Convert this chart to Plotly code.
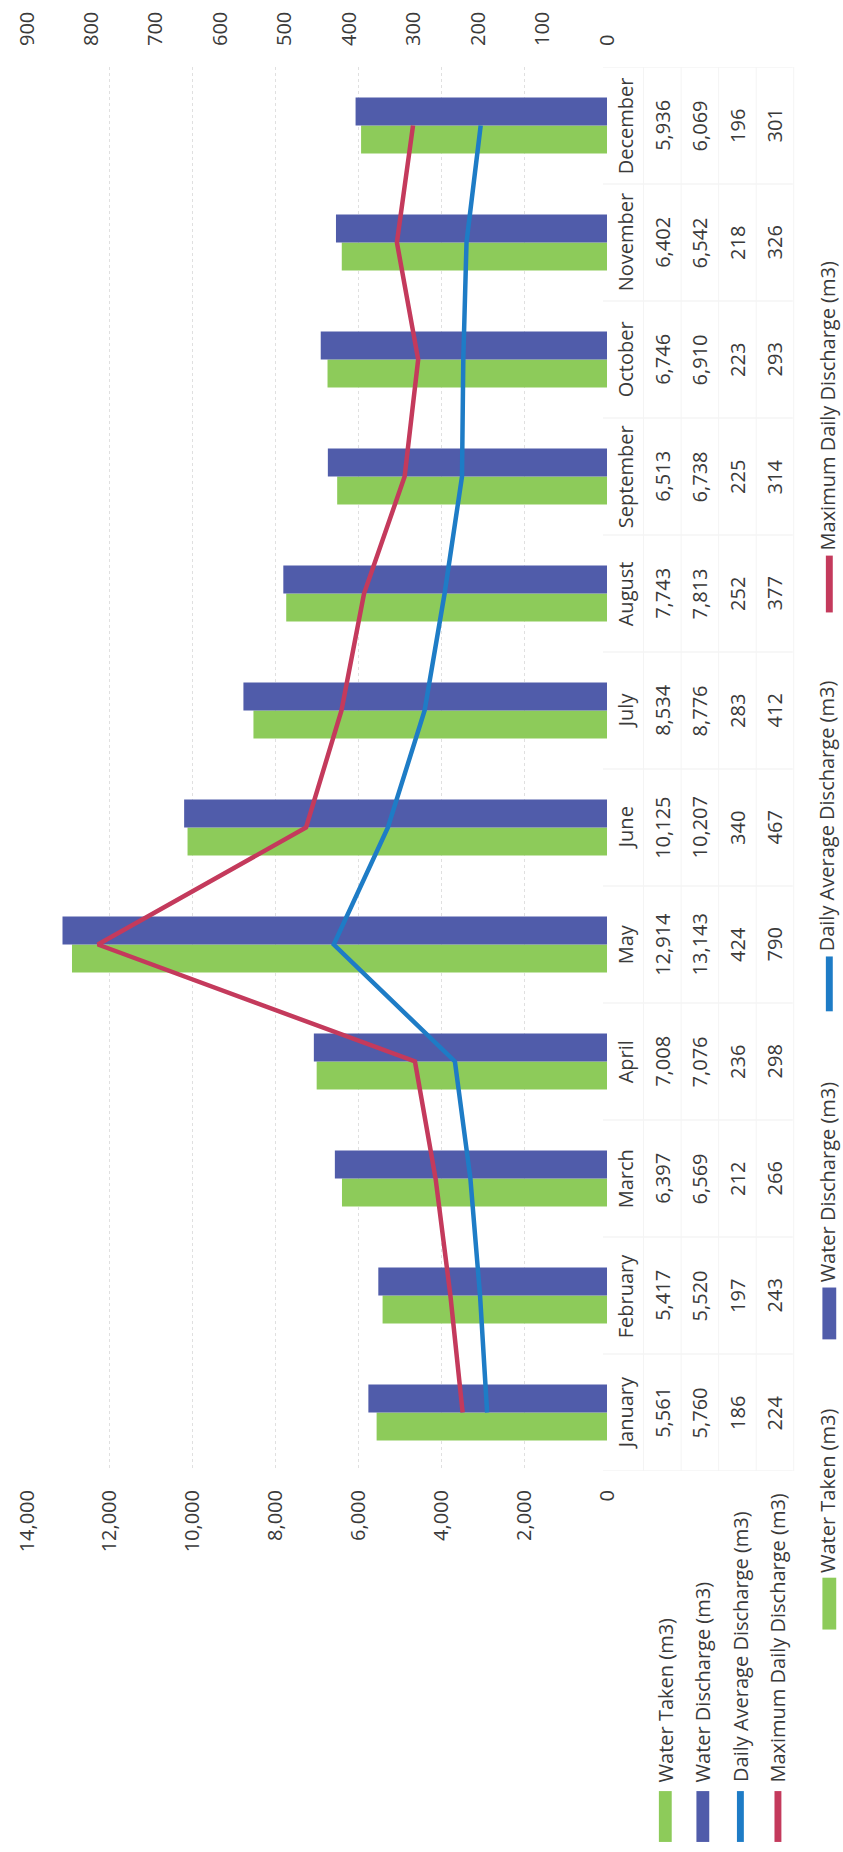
import plotly.graph_objects as go

# ---------------- data ----------------
months = ["January", "February", "March", "April", "May", "June", "July",
          "August", "September", "October", "November", "December"]
water_taken = [5561, 5417, 6397, 7008, 12914, 10125, 8534, 7743, 6513, 6746, 6402, 5936]
water_discharge = [5760, 5520, 6569, 7076, 13143, 10207, 8776, 7813, 6738, 6910, 6542, 6069]
daily_avg = [186, 197, 212, 236, 424, 340, 283, 252, 225, 223, 218, 196]
max_daily = [224, 243, 266, 298, 790, 467, 412, 377, 314, 293, 326, 301]

series_names = ["Water Taken (m3)", "Water Discharge (m3)",
                "Daily Average Discharge (m3)", "Maximum Daily Discharge (m3)"]
primary_ticks = [0, 2000, 4000, 6000, 8000, 10000, 12000, 14000]
secondary_ticks = [0, 100, 200, 300, 400, 500, 600, 700, 800, 900]

# ---------------- style ----------------
GREEN = "rgb(141,203,90)"
BLUE_BAR = "rgb(80,92,170)"
BLUE_LINE = "rgb(30,124,198)"
RED_LINE = "rgb(196,58,92)"
TEXT = "#3a3a3a"
FONT = "Open Sans"
FS = 20

W, H = 843, 1852
X0, X1 = 20, 607      # plot area left/right in px
Y0, Y1 = 63, 1471     # plot area top/bottom in px


def px(x):
    return (x - X0) / (X1 - X0)


def py(y):
    return (Y1 - y) / (Y1 - Y0)


fig = go.Figure()
fig.add_trace(go.Bar(orientation="h", y=months, x=water_taken, name=series_names[0],
                     marker=dict(color=GREEN, line=dict(width=0)), xaxis="x", yaxis="y"))
fig.add_trace(go.Bar(orientation="h", y=months, x=water_discharge, name=series_names[1],
                     marker=dict(color=BLUE_BAR, line=dict(width=0)), xaxis="x", yaxis="y"))
fig.add_trace(go.Scatter(y=months, x=daily_avg, name=series_names[2], mode="lines",
                         line=dict(color=BLUE_LINE, width=4.5), xaxis="x2", yaxis="y"))
fig.add_trace(go.Scatter(y=months, x=max_daily, name=series_names[3], mode="lines",
                         line=dict(color=RED_LINE, width=4.5), xaxis="x2", yaxis="y"))

annotations = []
shapes = []

# data table: month names and values
row_x = [663, 701, 739, 777]
row_vals = [water_taken, water_discharge, daily_avg, max_daily]
for i, m in enumerate(months):
    annotations.append(dict(x=px(626), y=m, xref="paper", yref="y", text=m,
                            textangle=-90, showarrow=False, xanchor="center",
                            yanchor="middle", font=dict(size=FS, color=TEXT, family=FONT)))
    for rx, vals in zip(row_x, row_vals):
        annotations.append(dict(x=px(rx), y=m, xref="paper", yref="y",
                                text=f"{vals[i]:,}", textangle=-90, showarrow=False,
                                xanchor="center", yanchor="middle",
                                font=dict(size=FS, color=TEXT, family=FONT)))

# faint data-table borders at category boundaries
for k in range(len(months) + 1):
    shapes.append(dict(type="line", xref="paper", yref="y", x0=px(603), x1=px(795),
                       y0=k - 0.5, y1=k - 0.5, line=dict(color="#efefef", width=1)))
for bx in [644, 682, 720, 758, 796]:
    shapes.append(dict(type="line", xref="paper", yref="paper", x0=px(bx), x1=px(bx),
                       y0=py(Y1), y1=py(Y0), line=dict(color="#f4f4f4", width=1)))

# row headers with keys
hdr_x = [666, 704, 742, 780]
colors = [GREEN, BLUE_BAR, BLUE_LINE, RED_LINE]
for k, (hx, name, col) in enumerate(zip(hdr_x, series_names, colors)):
    annotations.append(dict(x=px(hx), y=py(1785), xref="paper", yref="paper", text=name,
                            textangle=-90, showarrow=False, xanchor="center",
                            yanchor="bottom", font=dict(size=FS, color=TEXT, family=FONT)))
    half = 6.5 if k < 2 else 3.5
    shapes.append(dict(type="rect", xref="paper", yref="paper",
                       x0=px(hx - half), x1=px(hx + half), y0=py(1843), y1=py(1792),
                       fillcolor=col, line=dict(width=0)))

# bottom (right-side when rotated) legend
leg_x = 830
leg_text_bottom = [1574, 1283, 951, 549]
leg_key = [(1578, 1630), (1287, 1339), (955, 1010), (553, 610)]
for k, (name, col) in enumerate(zip(series_names, colors)):
    annotations.append(dict(x=px(leg_x), y=py(leg_text_bottom[k]), xref="paper", yref="paper",
                            text=name, textangle=-90, showarrow=False, xanchor="center",
                            yanchor="bottom", borderpad=0,
                            font=dict(size=FS, color=TEXT, family=FONT)))
    half = 7 if k < 2 else 3.5
    shapes.append(dict(type="rect", xref="paper", yref="paper",
                       x0=px(leg_x + 2 - half), x1=px(leg_x + 2 + half),
                       y0=py(leg_key[k][1]), y1=py(leg_key[k][0]),
                       fillcolor=col, line=dict(width=0)))

fig.update_layout(
    width=W, height=H,
    margin=dict(l=X0, r=W - X1, t=Y0, b=H - Y1, pad=0),
    paper_bgcolor="white", plot_bgcolor="white",
    showlegend=False,
    barmode="group", bargap=0.52, bargroupgap=0,
    font=dict(family=FONT, size=FS, color=TEXT),
    xaxis=dict(range=[14000, 0], tickvals=primary_ticks, tickformat=",",
               tickangle=-90, side="bottom", showgrid=True, gridcolor="#e0e0e0",
               griddash="dot", gridwidth=1, zeroline=False, showline=False,
               ticks="", ticklabelstandoff=14, tickfont=dict(size=FS, color=TEXT, family=FONT)),
    xaxis2=dict(range=[900, 0], tickvals=secondary_ticks, overlaying="x", side="top",
                tickangle=-90, showgrid=False, zeroline=False, showline=False,
                ticks="", ticklabelstandoff=20, tickfont=dict(size=FS, color=TEXT, family=FONT)),
    yaxis=dict(range=[-0.5, 11.5], showticklabels=False, showgrid=False,
               zeroline=False, showline=False, ticks=""),
    annotations=annotations,
    shapes=shapes,
)

fig.write_html("out.html")
